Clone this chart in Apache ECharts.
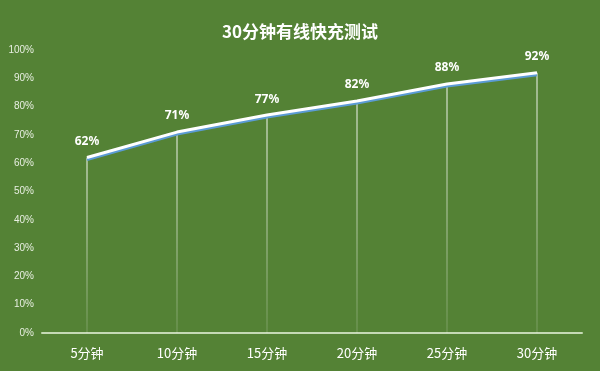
<!DOCTYPE html>
<html><head><meta charset="utf-8">
<script src="https://cdn.jsdelivr.net/npm/echarts@6/dist/echarts.min.js"></script>
<style>html,body{margin:0;padding:0;background:#548235}#c{width:600px;height:371px}</style>
</head><body><div id="c"></div>
<script>
const categories = ['5分钟','10分钟','15分钟','20分钟','25分钟','30分钟'];
const values = [62, 71, 77, 82, 88, 92];
const titleText = '30分钟有线快充测试';
const chart = echarts.init(document.getElementById('c'));
chart.setOption({
  backgroundColor: '#548235',
  animation: false,
  title: { text: titleText, left: 'center', top: 18,
    textStyle: { color: '#ffffff', fontSize: 17, fontWeight: 'bold', fontFamily: 'Noto Sans CJK SC' } },
  grid: { left: 42, right: 18, top: 50, bottom: 38 },
  xAxis: { type: 'category', data: categories, boundaryGap: true,
    axisLine: { lineStyle: { color: '#c5d9b5', width: 2 } },
    axisTick: { show: false },
    axisLabel: { color: '#ffffff', fontSize: 13, margin: 14, fontFamily: 'Noto Sans CJK SC' } },
  yAxis: { type: 'value', min: 0, max: 100, interval: 10,
    axisLabel: { formatter: '{value}%', color: '#e8efe2', fontSize: 10, margin: 8, fontFamily: 'Liberation Sans' },
    splitLine: { show: false }, axisLine: { show: false }, axisTick: { show: false } },
  series: [
    { type: 'bar', data: values, barWidth: 1, silent: true,
      itemStyle: { color: new echarts.graphic.LinearGradient(0,0,0,1,[
        {offset:0,color:'rgba(255,255,255,0.95)'},{offset:1,color:'rgba(255,255,255,0.2)'}]) } },
    { type: 'line', data: values, symbol: 'circle', symbolSize: 0, showSymbol: true,
      itemStyle: { color: '#ffffff' },
      lineStyle: { color: '#ffffff', width: 3, shadowColor: '#5b9bd5', shadowOffsetY: 2, shadowBlur: 0 },
      label: { show: true, position: 'top', distance: 10, formatter: '{c}%', color: '#ffffff',
        fontWeight: 'bold', fontSize: 12, fontFamily: 'Noto Sans' } }
  ]
});
</script></body></html>
